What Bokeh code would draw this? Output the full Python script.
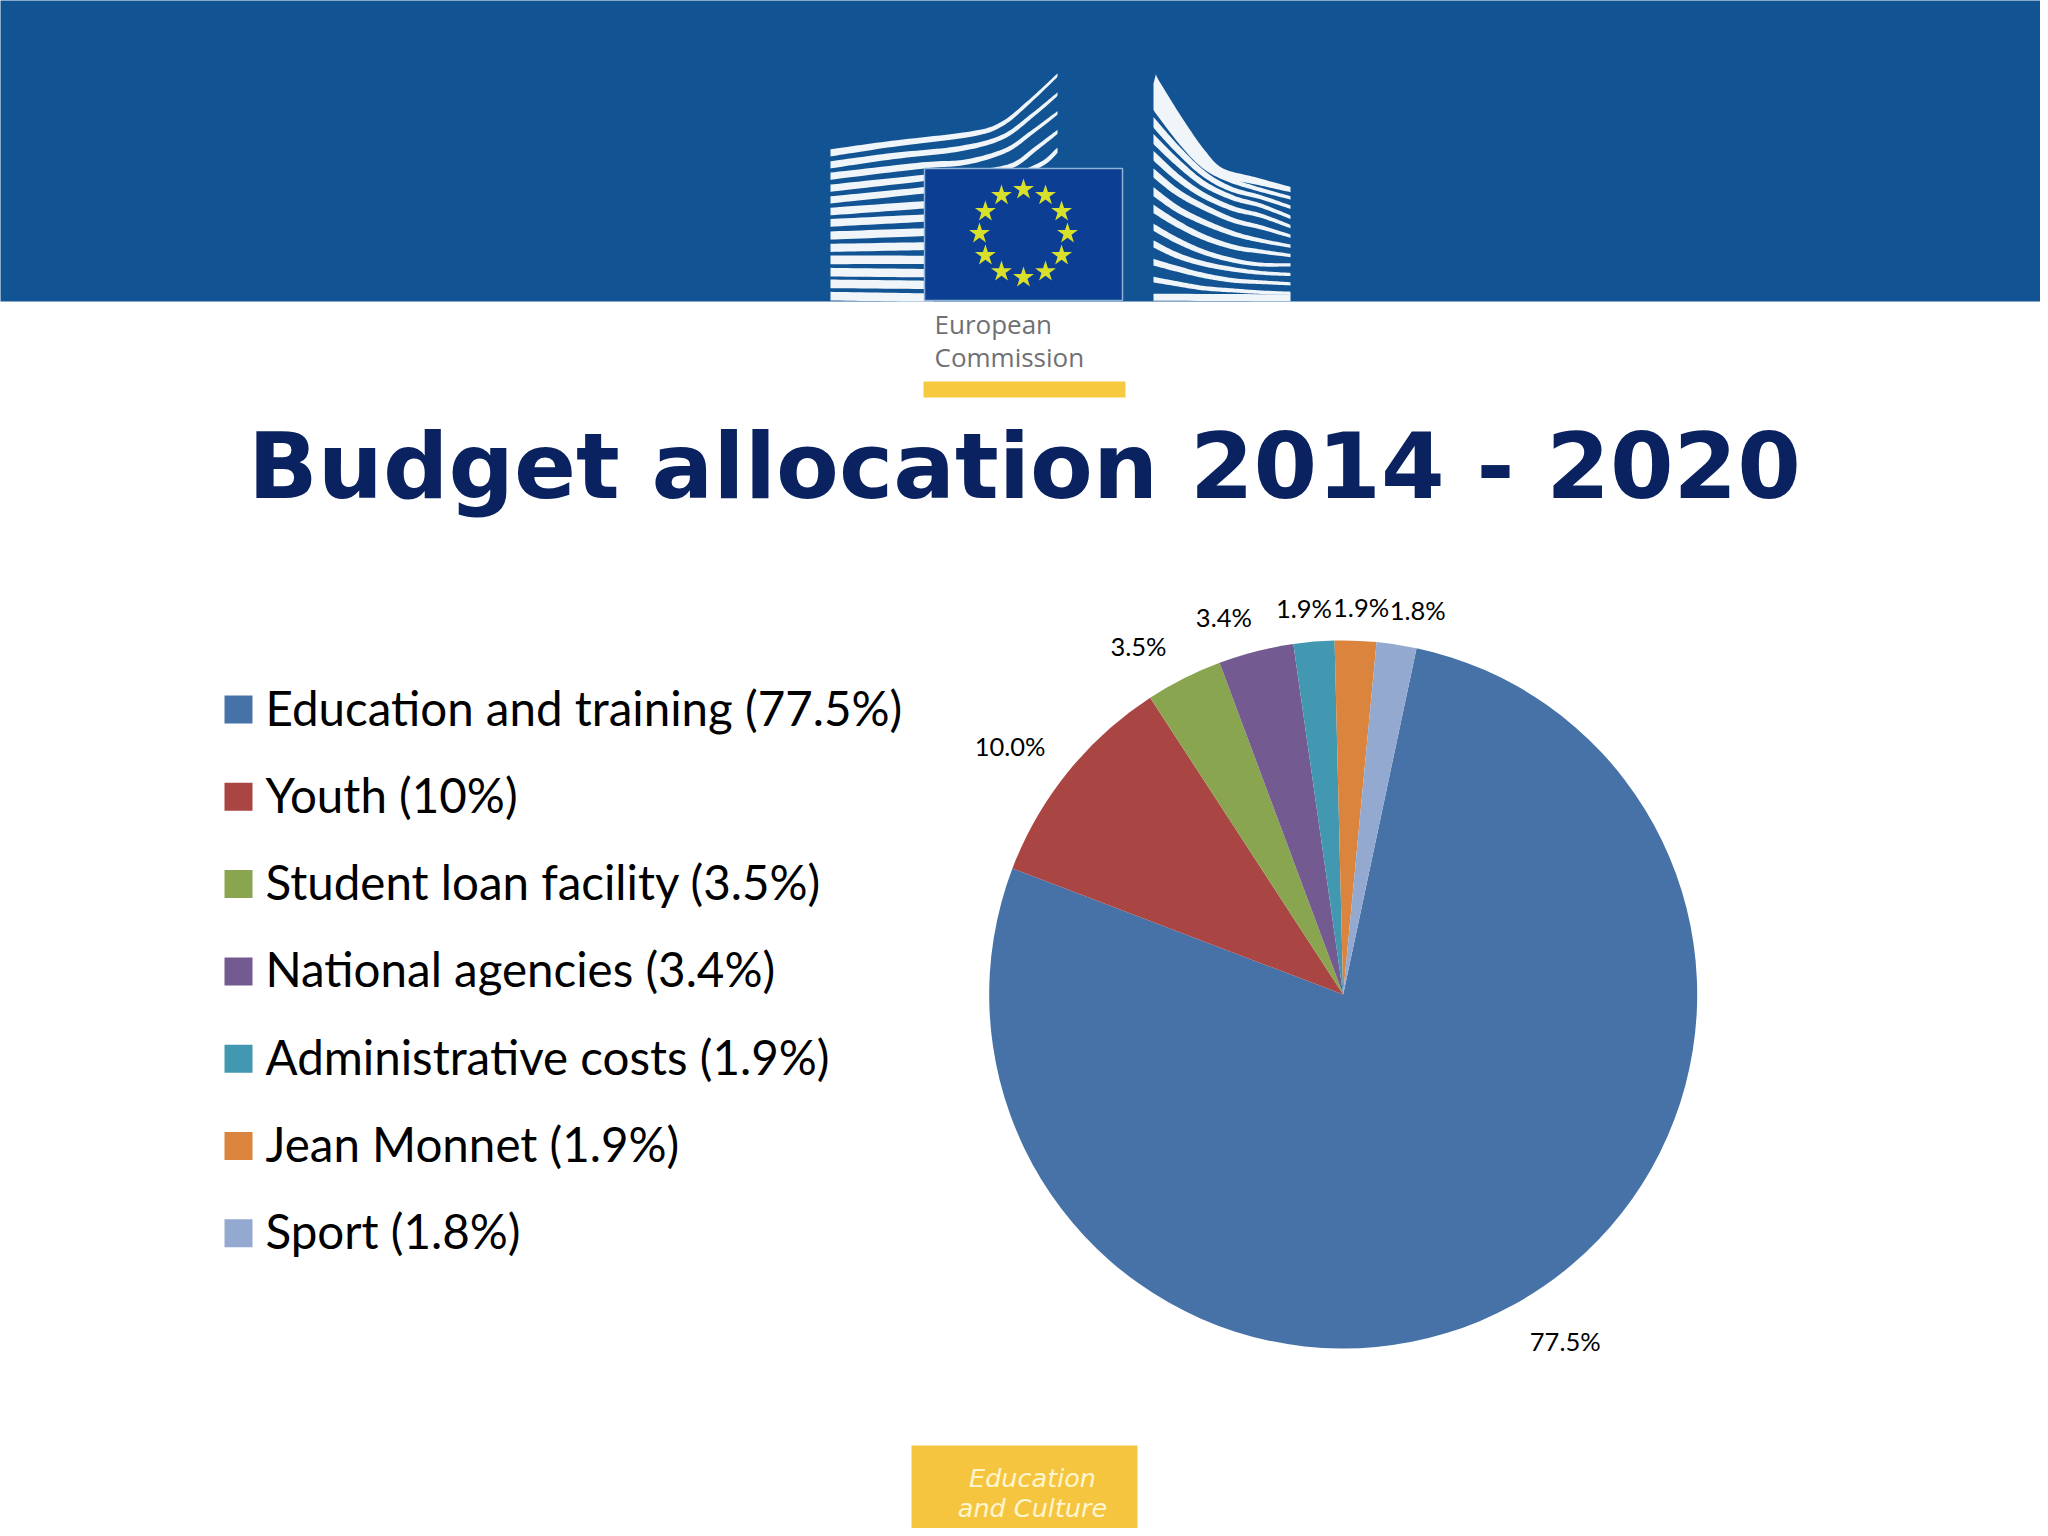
import math
import numpy as np
from bokeh.plotting import figure
from bokeh.core.properties import value
from bokeh.embed import file_html
from bokeh.resources import INLINE

# ---- data ----
categories = ["Education and training", "Youth", "Student loan facility", "National agencies",
              "Administrative costs", "Jean Monnet", "Sport"]
shares = [77.47, 10.03, 3.50, 3.43, 1.86, 1.89, 1.82]
legend_values = ["77.5%", "10%", "3.5%", "3.4%", "1.9%", "1.9%", "1.8%"]
colors = ["#4672A8", "#A94543", "#8AA54F", "#735A90", "#4298B0", "#DB843D", "#94A9D0"]
title_text = "Budget allocation 2014 - 2020"

# ---- layout ----
W, H, M = 2048, 1536, 8
CX, CY, R = 1342.7, 994.0, 354.0
START_DEG = 11.96
LABEL_NUDGE = [(52.6, 35.4), (-57.6, -25.9), (-45.4, -32.6), (-32.1, -34.6), (-10, -34), (5.5, -34), (21, -35)]
LEG_X, LEG_Y0, LEG_DY, LEG_S = 224, 709, 87.3, 28

def Y(v):
    return H - v

p = figure(width=W - M, height=H - M, x_range=(0, W - M), y_range=(M, H),
           output_backend="svg", toolbar_location=None, min_border=0,
           background_fill_color="white", border_fill_color="white", outline_line_color=None)
p.axis.visible = False
p.grid.visible = False

# ---- header band ----
p.quad(left=-20, right=W + 20, top=Y(-20), bottom=Y(301), fill_color="#125493", line_color=None)

def smooth(pts, n=14):
    pts = np.array(pts, dtype=float)
    q = np.vstack([2 * pts[0] - pts[1], pts, 2 * pts[-1] - pts[-2]])
    out = []
    for i in range(1, len(q) - 2):
        a, b, c, d = q[i - 1], q[i], q[i + 1], q[i + 2]
        for t in np.linspace(0, 1, n, endpoint=False):
            out.append(0.5 * (2 * b + (c - a) * t + (2 * a - 5 * b + 4 * c - d) * t ** 2 + (3 * b - a - 3 * c + d) * t ** 3))
    out.append(pts[-1])
    return np.array(out)

def stripe(pts, w0, w1, ox, oy, xmin, xmax, k=3.0):
    pts = [(ox + x / k, oy + y / k) for x, y in pts]
    # run the path a little past both edges, then cut it square at those edges
    a0, a1 = np.array(pts[0]), np.array(pts[1])
    b0, b1 = np.array(pts[-1]), np.array(pts[-2])
    first = a0 + (a0 - a1) / np.linalg.norm(a0 - a1) * 8
    last = b0 + (b0 - b1) / np.linalg.norm(b0 - b1) * 8
    P = smooth([tuple(first)] + pts + [tuple(last)])
    d = np.gradient(P, axis=0)
    d /= np.linalg.norm(d, axis=1, keepdims=True)
    n = np.column_stack([-d[:, 1], d[:, 0]])
    w = np.linspace(w0, w1, len(P))[:, None] / 2
    a, b = P + n * w, (P - n * w)[::-1]
    poly = np.vstack([a, b])
    return list(np.clip(poly[:, 0], xmin, xmax)), [Y(v) for v in np.minimum(poly[:, 1], 301)]

left = [
    ([(15, 262), (200, 235), (440, 205), (530, 175), (610, 110), (695, 30)], 8, 1.5),
    ([(15, 298), (200, 272), (400, 250), (530, 215), (620, 150), (695, 87)], 8, 2),
    ([(15, 332), (290, 300), (420, 290), (540, 255), (620, 200), (695, 143)], 8, 2),
    ([(15, 368), (290, 338), (450, 322), (560, 300), (630, 250), (695, 200)], 8, 2.5),
    ([(15, 403), (290, 375), (500, 350), (640, 300), (695, 255)], 8, 3),
    ([(15, 438), (295, 418)], 8, 7),
    ([(15, 472), (295, 458)], 8, 7),
    ([(15, 510), (295, 500)], 8.5, 7.5),
    ([(15, 547), (295, 542)], 8.5, 7.5),
    ([(15, 583), (295, 583)], 9, 8),
    ([(15, 620), (295, 623)], 9, 8),
    ([(15, 655), (295, 658)], 9, 8),
    ([(15, 692), (295, 696)], 9, 8),
]
right = [
    ([(38, 60), (110, 170), (180, 265), (240, 320), (340, 345), (450, 372)], 17, 3),
    ([(38, 115), (120, 225), (190, 300), (260, 340), (350, 370), (450, 397)], 8, 2.5),
    ([(38, 170), (110, 250), (190, 325), (270, 370), (360, 395), (450, 425)], 8, 2.5),
    ([(38, 220), (110, 290), (190, 355), (280, 398), (360, 420), (450, 455)], 8, 2.5),
    ([(38, 270), (110, 335), (190, 390), (280, 430), (360, 450), (450, 483)], 8, 2.5),
    ([(38, 322), (110, 380), (190, 425), (280, 465), (360, 485), (450, 512)], 8, 2.5),
    ([(38, 378), (110, 430), (190, 470), (280, 505), (360, 525), (450, 542)], 8, 2.5),
    ([(38, 430), (110, 475), (190, 515), (280, 545), (360, 558), (450, 570)], 8, 2.5),
    ([(38, 485), (110, 525), (190, 560), (280, 585), (360, 597), (450, 598)], 7, 2.5),
    ([(38, 535), (110, 570), (190, 595), (280, 612), (360, 622), (450, 627)], 7, 2.5),
    ([(38, 590), (110, 610), (190, 630), (280, 645), (360, 650), (450, 655)], 7, 2.5),
    ([(38, 642), (110, 655), (190, 668), (280, 675), (360, 680), (450, 683)], 6, 2.5),
    ([(38, 695), (450, 697)], 7, 7),
]
xs, ys = [], []
for pts, w0, w1 in left:
    a, b = stripe(pts, w0, w1, 825, 65, 830, 1057)
    xs.append(a); ys.append(b)
for pts, w0, w1 in right:
    a, b = stripe(pts, w0, w1, 1140, 65, 1153, 1290)
    xs.append(a); ys.append(b)
p.patches(xs, ys, fill_color="#F0F5FA", line_color=None)

# ---- flag ----
p.quad(left=924, right=1122, top=Y(168), bottom=Y(300), fill_color="#0C3F93",
       line_color="#8DB2D6", line_width=1.5)
star_angles = np.arange(12) * math.pi / 6
p.scatter(1023 + 44 * np.cos(star_angles), Y(233) + 44 * np.sin(star_angles), marker="star",
          size=22, fill_color="#D9E02C", line_color=None)
p.text([934, 934], [Y(323), Y(356)], text=["European", "Commission"], text_font=value("Open Sans"),
       text_font_size="26px", text_color="#6F7074", text_baseline="middle")
p.quad(left=923, right=1125, top=Y(381), bottom=Y(397), fill_color="#F6C93F", line_color=None)

# ---- title ----
p.text([1024], [Y(466)], text=[title_text], text_font=value("DejaVu Sans"), text_font_style="bold",
       text_font_size="91.5px", text_color="#0A2260", text_align="center", text_baseline="middle")

# ---- pie ----
total = sum(shares)
cum = np.cumsum([0] + shares) / total * 360 + START_DEG
theta0, theta1 = np.radians(cum[:-1]), np.radians(cum[1:])
p.wedge(x=[CX] * 7, y=[Y(CY)] * 7, radius=R, start_angle=list(math.pi / 2 - theta0),
        end_angle=list(math.pi / 2 - theta1), direction="clock", fill_color=colors, line_color=None)
mid = (theta0 + theta1) / 2
p.text(x=list(CX + R * np.sin(mid) + np.array([n[0] for n in LABEL_NUDGE])),
       y=list(Y(CY) + R * np.cos(mid) - np.array([n[1] for n in LABEL_NUDGE])),
       text=[f"{v:.1f}%" for v in shares], text_font=value("Lato"), text_font_size="25.5px",
       text_color="#000000", text_align="center", text_baseline="middle")

# ---- legend ----
leg_y = [LEG_Y0 + i * LEG_DY for i in range(len(categories))]
p.quad(left=LEG_X, right=LEG_X + LEG_S, top=[Y(v - LEG_S / 2) for v in leg_y],
       bottom=[Y(v + LEG_S / 2) for v in leg_y], fill_color=colors, line_color=None)
p.text(x=[265] * 7, y=[Y(v - 2.5) for v in leg_y],
       text=[f"{c} ({v})" for c, v in zip(categories, legend_values)],
       text_font=value("Lato"), text_font_size="47.5px", text_color="#000000", text_baseline="middle")

# ---- footer ----
p.quad(left=911, right=1137, top=Y(1445), bottom=Y(1556), fill_color="#F5C540", line_color=None)
p.text([1032, 1032], [Y(1477), Y(1507)], text=["Education", "and Culture"], text_font=value("DejaVu Sans"),
       text_font_style="italic", text_font_size="25.5px", text_color="#FFF6D0",
       text_align="center", text_baseline="middle")

open("out.html", "w").write(file_html(p, INLINE))
